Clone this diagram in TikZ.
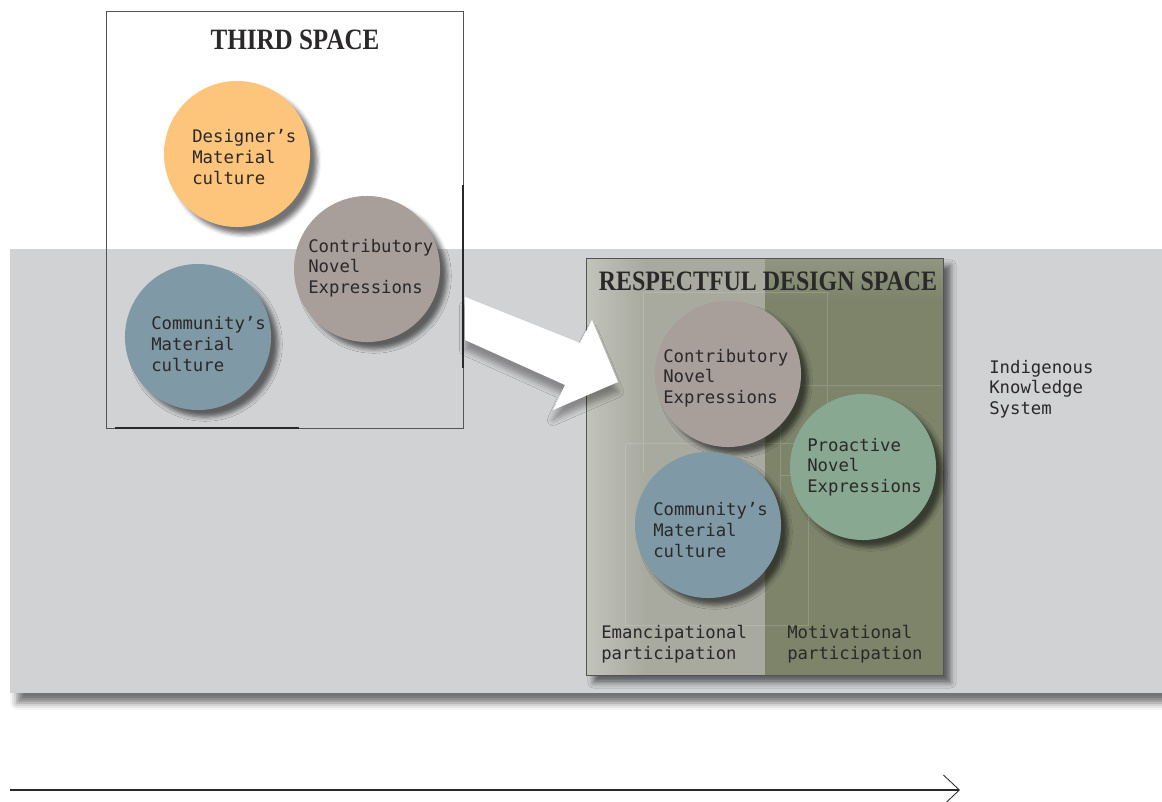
\documentclass[tikz,border=0pt]{standalone}
\usepackage{fontspec}
\setmonofont{DejaVu Sans Mono}
\newfontfamily\headfont[FakeStretch=0.85]{Liberation Serif}
\usetikzlibrary{shadows.blur,arrows.meta}

\definecolor{ink}{HTML}{2A2828}
\definecolor{bandgrey}{HTML}{D1D2D4}
\definecolor{orangec}{HTML}{FDC47C}
\definecolor{mauvec}{HTML}{A89E9A}
\definecolor{bluec}{HTML}{7F9AA6}
\definecolor{greenc}{HTML}{89A892}
\definecolor{paleside}{HTML}{A8A99F}
\definecolor{paleedge}{HTML}{C2C3BA}
\definecolor{oliveside}{HTML}{7D846A}

\begin{document}
\begin{tikzpicture}
    [x=0.025cm, y=-0.025cm,
    bubble/.style={circle, minimum size=3.65cm, inner sep=0pt,
        blur shadow={shadow xshift=5pt, shadow yshift=-5pt,
            shadow blur radius=3pt, shadow opacity=55}},
    spacebox/.style={draw=ink!80, line width=0.6pt, inner sep=0pt,
        minimum width=8.925cm, minimum height=10.425cm, anchor=north west},
    heading/.style={text=ink, font=\headfont\bfseries},
    caption/.style={align=left, anchor=west, inner sep=0pt, text=ink,
        font=\ttfamily\fontsize{12.3}{14.7}\selectfont}]

    \useasboundingbox (0,0) rectangle (1162,801);

    % grey band behind everything
    \fill[bandgrey, blur shadow={shadow xshift=5pt, shadow yshift=-7pt,
        shadow blur radius=5pt, shadow opacity=55}] (10,249) rectangle (1162,693);

    % third space
    \node[spacebox] (third) at (106,11) {};
    \draw[ink, line width=1.4pt] (463,185) -- (463,368);
    \draw[ink, line width=1.4pt] (115,428) -- (299,428);
    \node[heading, font=\headfont\bfseries\fontsize{21}{24}\selectfont] (thirdtitle) at (295,40) {THIRD SPACE};

    \node[bubble, fill=orangec] (designer) at (237,154) {};
    \node[bubble, fill=mauvec] (contrib) at (367,269) {};
    \node[bubble, fill=bluec] (community) at (198,337) {};
    \node[caption] (designertxt) at (192,157) {Designer’s\\Material\\culture};
    \node[caption] (contribtxt) at (308,268) {Contributory\\Novel\\Expressions};
    \node[caption] (communitytxt) at (151,344) {Community’s\\Material\\culture};

    % respectful design space
    \node[spacebox, fill=paleside, draw=none, blur shadow={shadow xshift=5pt,
        shadow yshift=-5pt, shadow blur radius=4pt, shadow opacity=55}] (respect) at (586,258) {};
    \shade[left color=paleedge, right color=paleside] (586,258) rectangle (645,675);
    \fill[oliveside] (765,258) rectangle (943,675);
    \shade[top color=oliveside!85!white, bottom color=oliveside] (765,258) rectangle (943,300);
    \draw[white, opacity=0.15, line width=0.4pt]
        (643,473) -- (643,292) -- (827,292) -- (827,443)
        (625,625) -- (625,443) -- (808,443) -- (808,625) -- cycle
        (942,385) -- (780,385) -- (780,567)
        (780,475) -- (808,475);
    \node[spacebox, fill=none] (respectframe) at (586,258) {};
    \node[heading, font=\headfont\bfseries\fontsize{20}{23}\selectfont] (respecttitle) at (768,281) {RESPECTFUL DESIGN SPACE};

    \node[bubble, fill=mauvec] (contrib2) at (728,374) {};
    \node[bubble, fill=greenc] (proactive) at (863,467) {};
    \node[bubble, fill=bluec] (community2) at (708,525) {};
    \node[caption] (contrib2txt) at (663,378) {Contributory\\Novel\\Expressions};
    \node[caption] (proactivetxt) at (807,467) {Proactive\\Novel\\Expressions};
    \node[caption] (community2txt) at (653,530) {Community’s\\Material\\culture};

    \node[caption] (emanc) at (601,644) {Emancipational\\participation};
    \node[caption] (motiv) at (787,644) {Motivational\\participation};

    % big white arrow from one space into the other
    \fill[white, blur shadow={shadow xshift=0pt, shadow yshift=-7pt,
        shadow blur radius=4pt, shadow opacity=35}]
        (465,297) -- (580,343) -- (592,320) -- (618,382)
        -- (553,410) -- (565,385) -- (465,340) -- cycle;

    % knowledge system label
    \node[caption] (iks) at (989,389) {Indigenous\\Knowledge\\System};

    % time line at the bottom
    \coordinate (tstart) at (10,790);
    \coordinate (tend) at (960,790);
    \draw[ink, line width=1.3pt, -{Straight Barb[length=4mm, width=7.5mm, line width=0.6pt]}] (tstart) -- (tend);

\end{tikzpicture}
\end{document}
